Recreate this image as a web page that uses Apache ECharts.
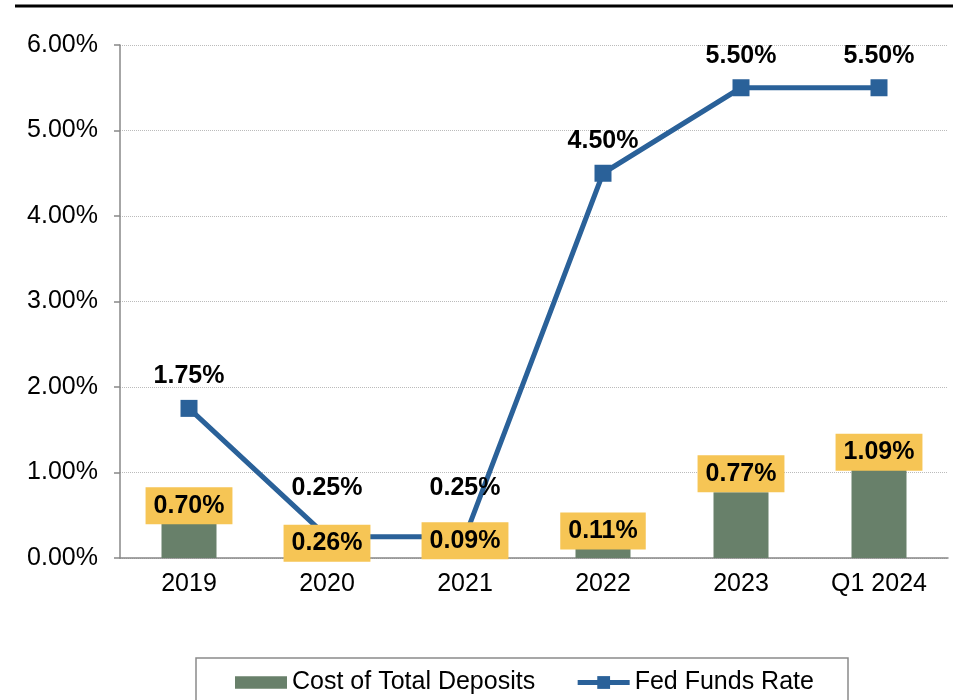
<!DOCTYPE html>
<html>
<head>
<meta charset="utf-8">
<script src="https://cdn.jsdelivr.net/npm/echarts@6/dist/echarts.min.js"></script>
<style>
  html, body { margin: 0; padding: 0; background: #fff; }
  #chart { width: 953px; height: 700px; }
</style>
</head>
<body>
<div id="chart"></div>
<script>
// chart data
const periods = ['2019', '2020', '2021', '2022', '2023', 'Q1 2024']
const costOfDeposits = [0.70, 0.26, 0.09, 0.11, 0.77, 1.09]
const fedFundsRate = [1.75, 0.25, 0.25, 4.50, 5.50, 5.50]
const yTicks = [0, 1, 2, 3, 4, 5, 6]

const font = '"Liberation Sans", Arial, sans-serif'
const barColor = '#68806A'
const lineColor = '#2A6199'
const labelYellow = '#F6C555'

// vertical nudges for the yellow bar labels (they sit where the original put them)
const barLabelNudge = [26, 26, 9, 1, 0, 6]
const lineLabelNudge = [0, -17, -17, 0, 0, 0]

const chart = echarts.init(document.getElementById('chart'))

const option = {
  animation: false,
  textStyle: { fontFamily: font },
  grid: {
    left: 120,
    right: 5,
    top: 45,
    bottom: 142
  },
  graphic: [
    {
      type: 'line',
      shape: { x1: 15, y1: 6, x2: 953, y2: 6 },
      style: { stroke: '#000', lineWidth: 3 }
    },
    {
      type: 'rect',
      shape: { x: 196, y: 658, width: 652, height: 60 },
      style: { fill: 'none', stroke: '#8a8a8a', lineWidth: 1.5 }
    }
  ],
  legend: {
    left: 235,
    top: 670,
    padding: 0,
    itemGap: 40,
    itemWidth: 52,
    itemHeight: 16,
    textStyle: { fontSize: 25, color: '#000', fontFamily: font },
    data: [
      { name: 'Cost of Total Deposits', icon: 'path://M0,0H50V12H0Z' },
      { name: 'Fed Funds Rate', lineStyle: { width: 5 } }
    ]
  },
  xAxis: {
    type: 'category',
    data: periods,
    axisLine: { lineStyle: { color: '#888', width: 1.5 } },
    axisTick: { length: 7, lineStyle: { color: '#888', width: 1.5 } },
    axisLabel: { fontSize: 25, color: '#000', margin: 14, fontFamily: font }
  },
  yAxis: {
    type: 'value',
    min: yTicks[0],
    max: yTicks[yTicks.length - 1],
    interval: 1,
    axisLine: { show: true, lineStyle: { color: '#888', width: 1.5 } },
    axisTick: { show: true, length: 6, lineStyle: { color: '#888', width: 1.5 } },
    axisLabel: {
      fontSize: 25,
      color: '#000',
      margin: 22,
      fontFamily: font,
      formatter: v => v.toFixed(2) + '%'
    },
    splitLine: { lineStyle: { color: '#bbb', type: 'dotted', width: 1 } }
  },
  series: [
    {
      name: 'Cost of Total Deposits',
      type: 'bar',
      z: 3,
      barWidth: 55,
      itemStyle: { color: barColor },
      data: costOfDeposits.map((v, i) => ({
        value: v,
        label: { offset: [0, barLabelNudge[i]] }
      })),
      label: {
        show: true,
        position: 'top',
        distance: 0,
        backgroundColor: labelYellow,
        padding: [6, 8],
        lineHeight: 25,
        fontSize: 25,
        fontWeight: 'bold',
        color: '#000',
        fontFamily: font,
        formatter: p => p.value.toFixed(2) + '%'
      }
    },
    {
      name: 'Fed Funds Rate',
      type: 'line',
      z: 2,
      symbol: 'rect',
      symbolSize: 17,
      itemStyle: { color: lineColor },
      lineStyle: { color: lineColor, width: 5 },
      data: fedFundsRate.map((v, i) => ({
        value: v,
        label: { offset: [0, lineLabelNudge[i]] }
      })),
      label: {
        show: true,
        position: 'top',
        distance: 11,
        fontSize: 25,
        fontWeight: 'bold',
        color: '#000',
        fontFamily: font,
        formatter: p => p.value.toFixed(2) + '%'
      }
    }
  ]
}

chart.setOption(option)
</script>
</body>
</html>
